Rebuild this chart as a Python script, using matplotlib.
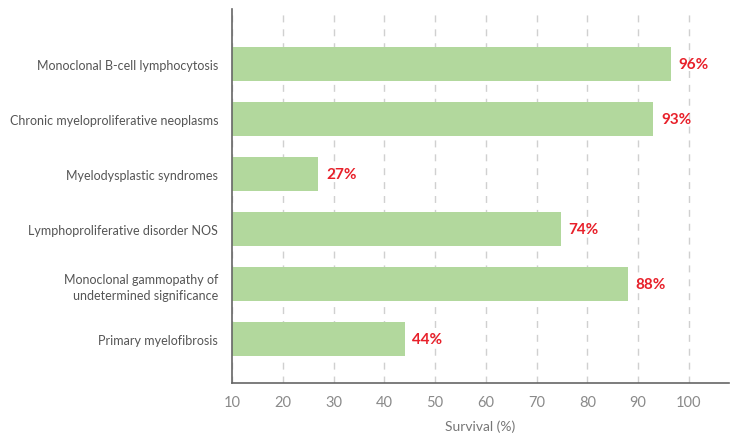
import matplotlib.pyplot as plt

categories = [
    "Monoclonal B-cell lymphocytosis",
    "Chronic myeloproliferative neoplasms",
    "Myelodysplastic syndromes",
    "Lymphoproliferative disorder NOS",
    "Monoclonal gammopathy of\nundetermined significance",
    "Primary myelofibrosis",
]
survival = [96.5, 93, 27, 74.8, 88, 44]
labels = ["96%", "93%", "27%", "74%", "88%", "44%"]
xticks = [10, 20, 30, 40, 50, 60, 70, 80, 90, 100]

plt.rcParams['font.family'] = ['Lato', 'DejaVu Sans']

fig = plt.figure(figsize=(7.37, 4.39), dpi=100)
ax = fig.add_axes([232 / 737, 55 / 439, 497 / 737, 374 / 439])

ypos = list(range(len(categories)))[::-1]
ax.barh(ypos, [v - 10 for v in survival], left=10, height=0.62, color="#b2d89d", zorder=2)
for y, v, lab in zip(ypos, survival, labels):
    ax.text(v + 1.5, y, lab, va="center", ha="left", color="#e8202a",
            fontsize=11, fontweight="bold")

ax.set_xlim(10, 107.9)
ax.set_ylim(-0.8, 6.0)
ax.set_xticks(xticks)
ax.set_xticklabels([str(t) for t in xticks], color="#8a8a8a", fontsize=10.5)
ax.set_yticks(ypos)
ax.set_yticklabels(categories, color="#555555", fontsize=9, linespacing=1.4)
ax.tick_params(axis="y", length=0, pad=10)
ax.tick_params(axis="x", length=0, pad=8.5)
ax.xaxis.grid(True, linestyle=(0, (5, 5)), color="#d0d0d0", linewidth=1, zorder=0)
ax.set_xlabel("Survival (%)", color="#777777", fontsize=10, labelpad=8)

for s in ["top", "right"]:
    ax.spines[s].set_visible(False)
for s in ["left", "bottom"]:
    ax.spines[s].set_color("#666666")
    ax.spines[s].set_linewidth(1.2)

fig.savefig("out.png", dpi=100)
